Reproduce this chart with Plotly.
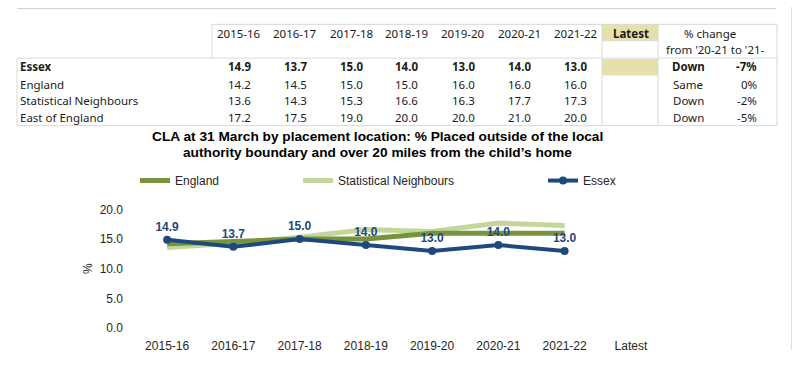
import plotly.graph_objects as go

# ---- data ----
years = ["2015-16", "2016-17", "2017-18", "2018-19", "2019-20", "2020-21", "2021-22"]
axis_categories = years + ["Latest"]
row_names = ["Essex", "England", "Statistical Neighbours", "East of England"]
essex = [14.9, 13.7, 15.0, 14.0, 13.0, 14.0, 13.0]
england = [14.2, 14.5, 15.0, 15.0, 16.0, 16.0, 16.0]
stat_neighbours = [13.6, 14.3, 15.3, 16.6, 16.3, 17.7, 17.3]
east_of_england = [17.2, 17.5, 19.0, 20.0, 20.0, 21.0, 20.0]
chart_england = [14.2, 14.5, 15.0, 15.0, 16.0, 16.0, 16.0]
direction = ["Down", "Same", "Down", "Down"]
pct_change = ["-7%", "0%", "-2%", "-5%"]
y_ticks = [0, 5, 10, 15, 20]
y_tick_labels = ["0.0", "5.0", "10.0", "15.0", "20.0"]

W, H = 794, 390
def px(x): return x / W
def py(y): return 1 - y / H

TFONT = "Noto Sans"
CFONT = "Liberation Sans"
BLUE = "#1F497D"
DGREEN = "#77933C"
LGREEN = "#C3D69B"
KHAKI = "#E6E0AB"
GRID = "#D9D9D9"

fig = go.Figure()

fig.add_trace(go.Scatter(x=years, y=stat_neighbours, mode="lines", name="Statistical Neighbours",
                         line=dict(color=LGREEN, width=5), legend="legend2", hoverinfo="skip",
                         showlegend=True))
fig.add_trace(go.Scatter(x=years, y=chart_england, mode="lines", name="England",
                         line=dict(color=DGREEN, width=5), legend="legend", hoverinfo="skip",
                         showlegend=True))
fig.add_trace(go.Scatter(x=years, y=essex, mode="lines+markers+text", name="Essex",
                         line=dict(color=BLUE, width=4), marker=dict(size=8, color=BLUE),
                         text=[f"{v:.1f}" for v in essex], textposition="top center",
                         textfont=dict(family=CFONT, size=12, color=BLUE, weight="bold"),
                         cliponaxis=False, legend="legend3", hoverinfo="skip", showlegend=True))

shapes = []
def hline(y, x0, x1, color=GRID):
    shapes.append(dict(type="line", xref="paper", yref="paper", x0=px(x0), x1=px(x1),
                       y0=py(y), y1=py(y), line=dict(color=color, width=1)))
def vline(x, y0, y1, color=GRID):
    shapes.append(dict(type="line", xref="paper", yref="paper", x0=px(x), x1=px(x),
                       y0=py(y0), y1=py(y1), line=dict(color=color, width=1)))
def rect(x0, y0, x1, y1, color):
    shapes.append(dict(type="rect", xref="paper", yref="paper", x0=px(x0), x1=px(x1),
                       y0=py(y1), y1=py(y0), fillcolor=color, line=dict(width=0), layer="below"))

# outer frame pieces
hline(1.5, 17, 776, "#D0D0D0")
vline(791.5, 0, 356, "#E0E0E0")
# table
rect(602, 18, 658, 35, KHAKI)
rect(602, 54, 658, 71, KHAKI)
hline(18, 212, 777)
hline(53, 17, 777)
hline(123, 17, 777)
hline(35, 602, 658)
vline(212, 18, 53)
vline(17, 53, 123)
vline(602, 18, 123)
vline(658, 18, 123)
vline(777, 18, 123)

ann = []
def text(x, y, s, size=11.5, bold=False, anchor="center", color="#1a1a1a", font=TFONT):
    ann.append(dict(x=px(x), y=py(y), xref="paper", yref="paper", text=s, showarrow=False,
                    xanchor=anchor, yanchor="middle",
                    font=dict(family=font, size=size, color=color, weight="bold" if bold else "normal")))

col_x = [239, 295, 351, 407, 463, 519, 575]
row_y = [62, 80, 97, 115]
for cx, yr in zip(col_x, years):
    text(cx, 28, yr)
text(631, 27, "Latest", bold=True)
text(710, 27, "% change")
text(715, 44, "from '20-21 to '21-")
series = [essex, england, stat_neighbours, east_of_england]
for i, (name, vals) in enumerate(zip(row_names, series)):
    b = (i == 0)
    text(18, row_y[i], name, bold=b, anchor="left")
    for cx, v in zip(col_x, vals):
        text(cx, row_y[i], f"{v:.1f}", bold=b)
    text(688, row_y[i], direction[i], bold=b)
    text(759, row_y[i], pct_change[i], bold=b, anchor="right")

# chart title
text(377, 134, "CLA at 31 March by placement location: % Placed outside of the local", size=13.7, bold=True, font=CFONT, color="#000000")
text(377, 151, "authority boundary and over 20 miles from the child’s home", size=13.7, bold=True, font=CFONT, color="#000000")

legend_common = dict(orientation="h", xanchor="left", yanchor="middle", bgcolor="rgba(0,0,0,0)",
                     font=dict(family=CFONT, size=12, color="#262626"), itemwidth=30, visible=True)
fig.update_layout(
    width=W, height=H, margin=dict(l=0, r=0, t=0, b=0),
    paper_bgcolor="white", plot_bgcolor="white", showlegend=True,
    shapes=shapes, annotations=ann,
    legend=dict(x=px(135), y=py(180), **legend_common),
    legend2=dict(x=px(298), y=py(180), **legend_common),
    legend3=dict(x=px(543), y=py(180), **legend_common),
    xaxis=dict(domain=[px(134), px(664)], type="category", categoryorder="array",
               categoryarray=axis_categories, range=[-0.5, 7.5], showgrid=False, zeroline=False,
               showline=False, ticks="", tickfont=dict(family=CFONT, size=12, color="#262626"),
               ticklabelstandoff=9, fixedrange=True),
    yaxis=dict(domain=[py(333), py(210)], range=[0, 20], tickvals=y_ticks, ticktext=y_tick_labels,
               showgrid=False, zeroline=False, showline=False, ticks="",
               tickfont=dict(family=CFONT, size=12, color="#262626"), ticklabelstandoff=10,
               title=dict(text="%", font=dict(family=CFONT, size=12, color="#262626"), standoff=4),
               fixedrange=True),
)

fig.write_html("out.html", config={"displayModeBar": False},
               post_script="document.body.style.margin='0';document.body.style.overflow='hidden';")
